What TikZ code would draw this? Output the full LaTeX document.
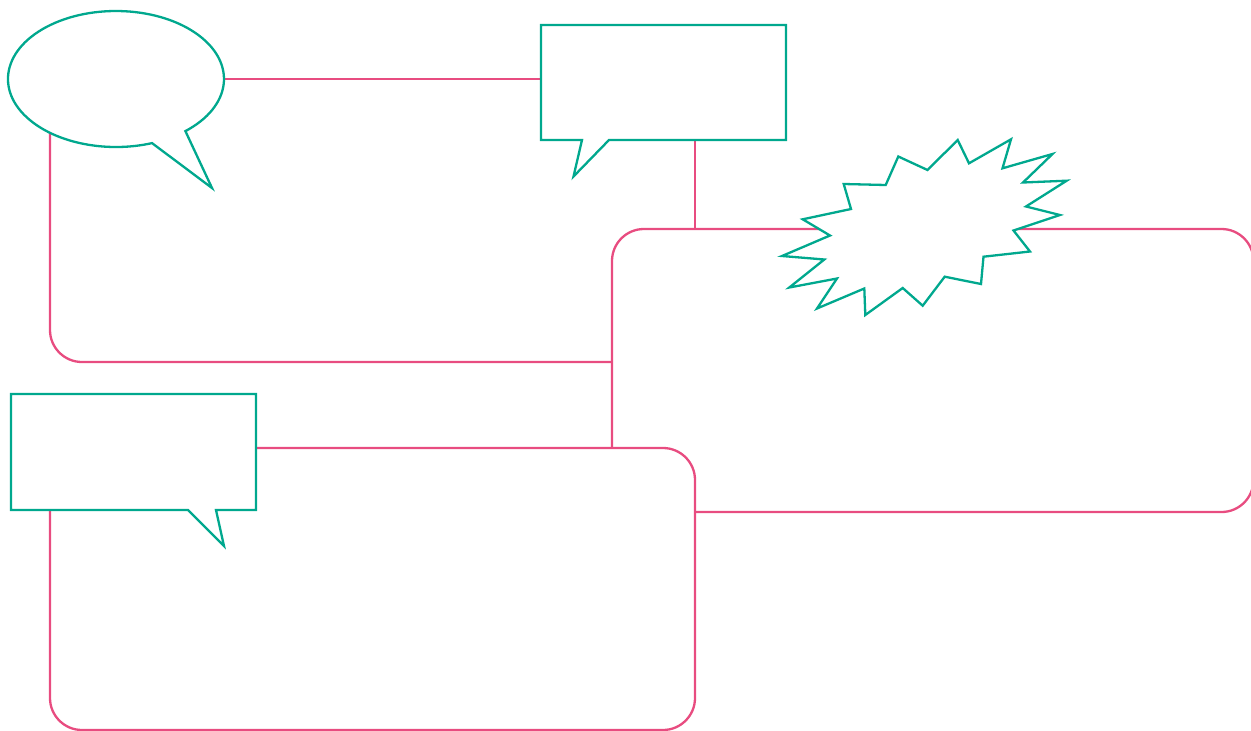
\documentclass[tikz,border=0pt]{standalone}
\usetikzlibrary{shapes.geometric}
\definecolor{teal1}{RGB}{0,168,142}
\definecolor{pink1}{RGB}{232,76,128}
\begin{document}
\begin{tikzpicture}[x=1pt,y=-1pt,
  link/.style={draw=pink1,line width=2.3pt,rounded corners=32pt},
  callout/.style={draw=teal1,fill=white,line width=2.3pt,line join=miter},
  foot/.style={draw=none,inner sep=0pt,outer sep=0pt}]
\useasboundingbox (0,0) rectangle (1251,731);
\clip (0,0) rectangle (1251,731);
% footprints of the shapes (named nodes)
\node[foot,ellipse,minimum width=216pt,minimum height=136pt] (e) at (116,79) {};
\node[foot,rectangle,minimum width=245pt,minimum height=115pt] (r1) at (663.5,82.5) {};
\node[foot,rectangle,minimum width=245pt,minimum height=116pt] (r2) at (133.5,452) {};
\node[foot,circle,minimum size=20pt] (st) at (924,229) {};
% junction coordinates
\coordinate (jA) at (612,448);
\coordinate (jB) at (612,362);
\coordinate (jC) at (695,512);
\coordinate (jD) at (695,229);
\coordinate (cl) at (50,362);
\coordinate (ctl) at (612,229);
\coordinate (ctr) at (1253.5,229);
\coordinate (cbr) at (1253.5,512);
\coordinate (cr2) at (695,448);
\coordinate (cbb) at (695,730);
\coordinate (cbl) at (50,730);
% connectors
\draw[link] (e.center) -- (e.center -| r1.west);
\draw[link] (e.center -| cl) -- (cl) -- (jB);
\draw[link] (jA) -- (ctl) -- (st.center) -- (ctr) -- (cbr) -- (jC);
\draw[link] (r1.south -| jD) -- (jD);
\draw[link] (r2.east |- jA) -- (cr2) -- (cbb) -- (cbl) -- (r2.south -| cbl);
% callout outlines
\draw[callout] (185.4,131.1) arc[start angle=50,end angle=-289.5,x radius=108,y radius=68] -- (212,188) -- cycle;
\draw[callout] (r1.north west) -- (r1.north east) -- (r1.south east) -- (609,140) -- (573.5,176.5) -- (582,140) -- (r1.south west) -- cycle;
\draw[callout] (r2.north west) -- (r2.north east) -- (r2.south east) -- (216,510) -- (224,546) -- (188,510) -- (r2.south west) -- cycle;
\draw[callout] (957.7,140) -- (969,163.3) -- (1011,139.3) -- (1002.5,168.3) -- (1052.5,154) -- (1023,182.5) -- (1066.7,180.7) -- (1026,206.5) -- (1060,215) -- (1013.5,230.5) -- (1030,251.5) -- (983.5,256.7) -- (981,284) -- (944.7,276.7) -- (922.7,305.7) -- (902.7,288) -- (865.3,315) -- (864.3,288.5) -- (817,308.5) -- (837,278.5) -- (789.3,287.5) -- (824.3,259.5) -- (782,256) -- (830,235.5) -- (802.7,219.3) -- (851,209) -- (843.7,184) -- (885.7,185) -- (898.3,156.5) -- (927.5,170) -- cycle;
\end{tikzpicture}
\end{document}
